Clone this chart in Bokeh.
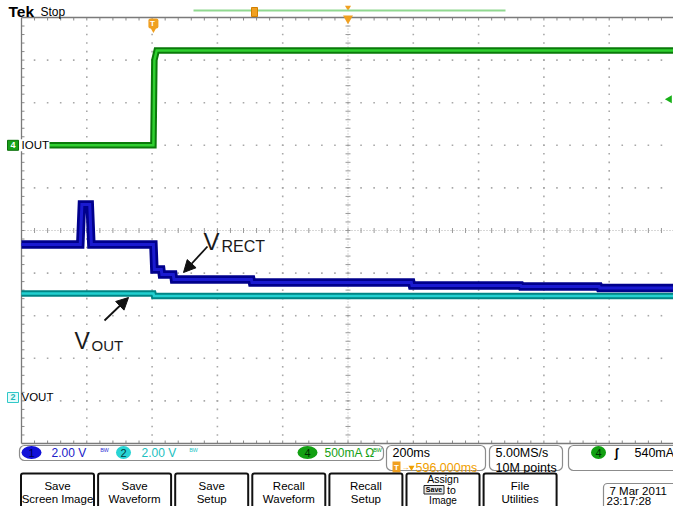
import numpy as np
from bokeh.plotting import figure
from bokeh.models import Range1d, Arrow, NormalHead
from bokeh.core.properties import value
from bokeh.embed import file_html
from bokeh.resources import INLINE

# ---------------- data ----------------
TIME_PER_DIV = 200.0      # ms / div
CENTER_TIME = 596.0       # ms (trigger -> centre)
CH1_V_PER_DIV = 2.0       # VRECT
CH2_V_PER_DIV = 2.0       # VOUT
CH4_MA_PER_DIV = 500.0    # IOUT
CH1_OFFSET_DIV = -3.92
CH2_OFFSET_DIV = -3.92
CH4_OFFSET_DIV = 2.0
TRIG_LEVEL_MA = 540.0

VRECT_T = [-404, -224, -219, -195, -190, 0, 3, 24, 26, 61, 63, 300, 302, 790, 792, 1125, 1127, 1365, 1367, 1600]
VRECT_V = [7.18, 7.18, 9.06, 9.06, 7.18, 7.18, 6.01, 6.01, 5.77, 5.77, 5.54, 5.54, 5.40, 5.40, 5.26, 5.26, 5.21, 5.21, 5.14, 5.14]
VOUT_T = [-404, 0, 2, 1600]
VOUT_V = [4.88, 4.88, 4.76, 4.76]
IOUT_T = [-404, 0, 3, 10, 1600]
IOUT_MA = [0, 0, 1000, 1113, 1113]

CH_SETTINGS = ["2.00 V", "2.00 V", "500mA Ω"]
TIMEBASE = "200ms"
HPOS = "596.000ms"
SAMPLE = ["5.00MS/s", "10M points"]
TRIG_TEXT = "540mA"
BUTTONS = [["Save", "Screen Image"], ["Save", "Waveform"], ["Save", "Setup"],
           ["Recall", "Waveform"], ["Recall", "Setup"], ["Assign", "Save to", "Image"],
           ["File", "Utilities"]]
DATE = ["7 Mar 2011", "23:17:28"]

# ---------------- screen geometry ----------------
T0 = CENTER_TIME - 5 * TIME_PER_DIV
PXX, PXY, GL, GT = 65.3, 42.6, 21.0, 17.0


def X(px):
    return T0 + (px - GL) / PXX * TIME_PER_DIV


def Y(py):
    return 5 - (py - GT) / PXY


DX = TIME_PER_DIV / PXX   # ms per pixel
DY = 1.0 / PXY            # div per pixel

p = figure(width=673, height=506, x_range=Range1d(X(0), X(673)), y_range=Range1d(Y(506), Y(0)),
           output_backend="svg", toolbar_location=None, min_border=0,
           x_axis_location=None, y_axis_location=None,
           background_fill_color="white", border_fill_color="white", outline_line_color=None)
p.grid.visible = False

FONT = "Liberation Sans"


def txt(px, py, s, size, color="black", align="left", baseline="middle", bold=False, font=FONT):
    p.text(x=[X(px)], y=[Y(py)], text=[s], text_font=value(font), text_font_size=f"{size}px",
           text_color=color, text_align=align, text_baseline=baseline,
           text_font_style="bold" if bold else "normal")


# ---------------- graticule ----------------
minor_t = T0 + (TIME_PER_DIV / 5) * np.arange(1, 50)
minor_y = -5 + 0.2 * np.arange(1, 50)
gx, gy = [], []
for k in range(1, 10):
    if k == 5:
        continue
    gx += [T0 + TIME_PER_DIV * k] * len(minor_y)
    gy += list(minor_y)
    gx += list(minor_t)
    gy += [-5 + k] * len(minor_t)
p.scatter(gx, gy, marker="square", size=1.6, fill_color="#a8a8a8", line_color=None)

tc = T0 + 5 * TIME_PER_DIV
p.segment(x0=[tc, T0], y0=[-5, 0], x1=[tc, T0 + 10 * TIME_PER_DIV], y1=[5, 0],
          line_color="#b0b0b0", line_width=1, line_dash="1 2")
p.segment(x0=[tc - 2.5 * DX] * len(minor_y), y0=minor_y, x1=[tc + 2.5 * DX] * len(minor_y), y1=minor_y,
          line_color="#9a9a9a", line_width=1)
p.segment(x0=minor_t, y0=[-2.5 * DY] * len(minor_t), x1=minor_t, y1=[2.5 * DY] * len(minor_t),
          line_color="#9a9a9a", line_width=1)
p.segment(x0=minor_t, y0=[5] * len(minor_t), x1=minor_t, y1=[5 - 3 * DY] * len(minor_t),
          line_color="#8a8a8a", line_width=1)
p.segment(x0=minor_t, y0=[-5] * len(minor_t), x1=minor_t, y1=[-5 + 3 * DY] * len(minor_t),
          line_color="#8a8a8a", line_width=1)
p.segment(x0=[T0] * len(minor_y), y0=minor_y, x1=[T0 + 3 * DX] * len(minor_y), y1=minor_y,
          line_color="#8a8a8a", line_width=1)
tr = T0 + 10 * TIME_PER_DIV
p.segment(x0=[T0, T0, T0], y0=[5, -5, -5], x1=[tr, tr, T0], y1=[5, -5, 5],
          line_color="#7a7a7a", line_width=1.3)

# ---------------- traces ----------------
ch2 = np.array(VOUT_V) / CH2_V_PER_DIV + CH2_OFFSET_DIV
p.line(VOUT_T, ch2, line_width=6.5, line_color="#008585", line_join="miter")
p.line(VOUT_T, ch2, line_width=2.5, line_color="#22d0d0", line_join="miter")

ch1 = np.array(VRECT_V) / CH1_V_PER_DIV + CH1_OFFSET_DIV
p.line(VRECT_T, ch1, line_width=8.5, line_color="#00008c", line_join="miter")
p.line(VRECT_T, ch1, line_width=3, line_color="#1a1ad0", line_join="miter")

ch4 = np.array(IOUT_MA) / CH4_MA_PER_DIV + CH4_OFFSET_DIV
p.line(IOUT_T, ch4, line_width=6.5, line_color="#0a7a0a", line_join="miter")
p.line(IOUT_T, ch4, line_width=2.5, line_color="#30d030", line_join="miter")

# ---------------- markers ----------------
y4 = CH4_OFFSET_DIV
py4 = 230 - y4 * PXY
p.quad(left=[X(19.5)], right=[X(49)], top=[Y(py4 - 6)], bottom=[Y(py4 + 6)],
       fill_color="white", line_color=None)
p.quad(left=[X(7)], right=[X(18)], top=[y4 + 5 * DY], bottom=[y4 - 5 * DY],
       fill_color="#18a018", line_color="#0c700c", line_width=1)
txt(12.5, py4, "4", 9, color="white", align="center", bold=True)
txt(21, py4, "IOUT", 11.5)
y2 = CH2_OFFSET_DIV
py2 = 230 - y2 * PXY
p.quad(left=[X(7)], right=[X(18)], top=[y2 + 5 * DY], bottom=[y2 - 5 * DY],
       fill_color="#e6fbfb", line_color="#30c8c8", line_width=1)
txt(12.5, py2, "2", 9, color="#20b8b8", align="center", bold=True)
txt(21, py2, "VOUT", 11.5)

p.scatter([X(669)], [TRIG_LEVEL_MA / CH4_MA_PER_DIV + CH4_OFFSET_DIV], marker="triangle",
          angle=np.pi / 2, size=8, fill_color="#18b018", line_color=None)

p.quad(left=[-5 * DX], right=[5 * DX], top=[Y(18)], bottom=[Y(28)], border_radius=2,
       fill_color="#f0a020", line_color=None)
p.scatter([0], [Y(29)], marker="inverted_triangle", size=6, fill_color="#f0a020", line_color=None)
txt(152, 23, "T", 8, color="white", align="center", bold=True)

p.scatter([tc, tc], [Y(7), Y(18)], marker="inverted_triangle", size=[6, 10],
          fill_color="#f0a020", line_color=None)

p.segment(x0=[X(193)], y0=[Y(10)], x1=[X(505)], y1=[Y(10)], line_color="#90d890", line_width=2)
p.quad(left=[X(251)], right=[X(257)], top=[Y(7)], bottom=[Y(16)], fill_color="#f0a020",
       line_color="#d08000", line_width=1)

txt(8, 11, "Tek", 15.5, bold=True)
txt(40, 11, "Stop", 12)

# ---------------- annotations ----------------
p.add_layout(Arrow(end=NormalHead(size=12, fill_color="#111111", line_color="#111111"),
                   x_start=X(207), y_start=Y(246), x_end=X(183), y_end=Y(272),
                   line_width=1.8, line_color="#111111"))
p.add_layout(Arrow(end=NormalHead(size=12, fill_color="#111111", line_color="#111111"),
                   x_start=X(104), y_start=Y(320), x_end=X(128), y_end=Y(297),
                   line_width=1.8, line_color="#111111"))
txt(203, 241, "V", 24, color="#1a1a1a", baseline="alphabetic")
txt(221, 246, "RECT", 16, color="#1a1a1a", baseline="alphabetic")
txt(74, 340, "V", 23, color="#1a1a1a", baseline="alphabetic")
txt(91, 345, "OUT", 15, color="#1a1a1a", baseline="alphabetic")

# ---------------- status bar ----------------
p.quad(left=[X(19), X(386), X(489), X(568)], right=[X(383), X(485), X(562), X(700)],
       top=[Y(445)] * 4, bottom=[Y(460), Y(470), Y(470), Y(470)], border_radius=5,
       fill_color="white", line_color="#8c8c8c", line_width=1.2)

BH = 13 * DY
BW = 20 * DX
p.ellipse(x=[X(31), X(123), X(307), X(598)], y=[Y(452)] * 4, width=[BW, 15 * DX, BW, 15 * DX],
          height=[BH] * 4, fill_color=["#1212d8", "#28d4d4", "#12a012", "#12a012"], line_color=None)
txt(31, 452, "1", 11, color="#000050", align="center")
txt(123, 452, "2", 11, color="#004040", align="center")
txt(307, 452, "4", 11, color="#003000", align="center")
txt(598, 452, "4", 11, color="#003000", align="center")
txt(51, 452, CH_SETTINGS[0], 12, color="#2020c8")
txt(100, 451, "ᴮᵂ", 8, color="#4040d8")
txt(141, 452, CH_SETTINGS[1], 12, color="#20c0c0")
txt(189, 451, "ᴮᵂ", 8, color="#30c8c8")
txt(324, 452, CH_SETTINGS[2], 12, color="#14a014")
txt(373, 451, "ᴮᵂ", 8, color="#14a014")

txt(392, 452, TIMEBASE, 12.5)
p.quad(left=[X(392)], right=[X(400)], top=[Y(461)], bottom=[Y(472)], fill_color="#f0a020",
       line_color=None)
txt(396, 466.5, "T", 8, color="white", align="center", bold=True)
txt(401, 467, "→", 8, color="#f0a000")
p.scatter([X(411)], [Y(467)], marker="inverted_triangle", size=6, fill_color="#f0a000", line_color=None)
txt(415, 467, HPOS, 12.5, color="#f0a000")
txt(495, 452, SAMPLE[0], 12.5)
txt(495, 467, SAMPLE[1], 12.5)
txt(614, 452, "ʃ", 12, bold=True)
txt(634, 452, TRIG_TEXT, 12.5)

# ---------------- soft buttons ----------------
lefts = [20.5 + 77.1 * i for i in range(len(BUTTONS))]
p.quad(left=[X(l) for l in lefts], right=[X(l + 73) for l in lefts], top=[Y(473)] * len(lefts),
       bottom=[Y(515)] * len(lefts), border_radius=2, fill_color="white",
       line_color="#111111", line_width=2)
for l, lines in zip(lefts, BUTTONS):
    cx = l + 36.5
    if len(lines) == 2:
        txt(cx, 485, lines[0], 11.5, align="center")
        txt(cx, 498, lines[1], 11.5, align="center")
    else:
        txt(cx, 478, lines[0], 10.5, align="center")
        p.quad(left=[X(cx - 19)], right=[X(cx + 1)], top=[Y(485)], bottom=[Y(493.5)],
               fill_color="#e8e8e8", line_color="#222222", line_width=1)
        txt(cx - 9, 489.2, lines[1].split()[0], 7, align="center", bold=True)
        txt(cx + 4, 489.5, lines[1].split()[1], 10.5)
        txt(cx, 499.5, lines[2], 10, align="center")

p.quad(left=[X(603)], right=[X(700)], top=[Y(483)], bottom=[Y(515)], border_radius=4,
       fill_color="white", line_color="#8c8c8c", line_width=1.2)
txt(609, 490.5, DATE[0], 11.5)
txt(606, 500.5, DATE[1], 11.5)

open("out.html", "w").write(file_html(p, INLINE))
